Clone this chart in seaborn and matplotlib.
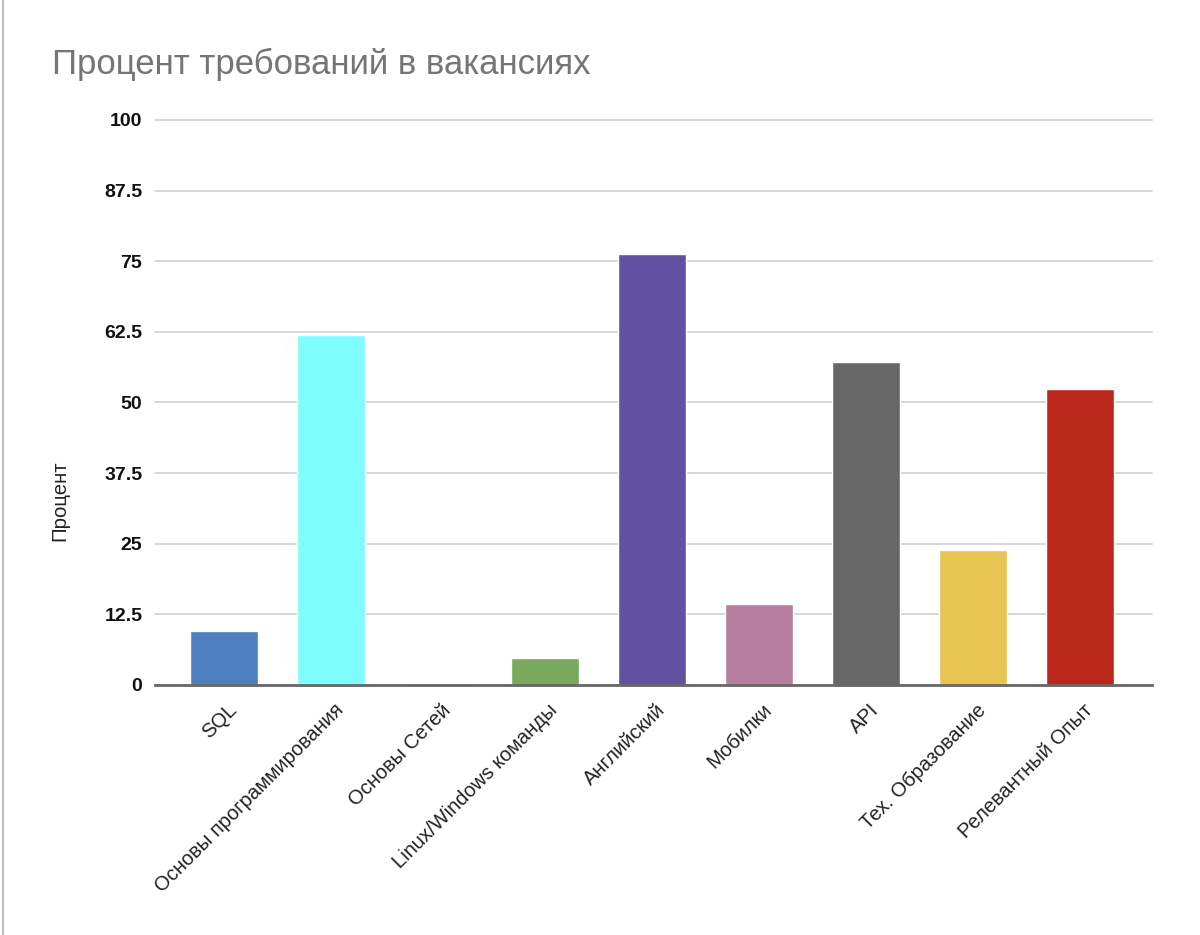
"""Процент требований в вакансиях — bar chart."""

import matplotlib

matplotlib.use("Agg")
import matplotlib.pyplot as plt
import matplotlib.transforms as mtransforms
import pandas as pd
import seaborn as sns
from matplotlib.lines import Line2D

categories = [
    "SQL",
    "Основы программирования",
    "Основы Сетей",
    "Linux/Windows команды",
    "Английский",
    "Мобилки",
    "API",
    "Тех. Образование",
    "Релевантный Опыт",
]
percent = [9.52, 61.90, 0.0, 4.76, 76.19, 14.29, 57.14, 23.81, 52.38]
colors = [
    "#4e7fbf",
    "#7ffcfc",
    "#999999",
    "#78a95c",
    "#6251a0",
    "#b77e9f",
    "#676767",
    "#e8c452",
    "#ba271b",
]
y_ticks = [0, 12.5, 25, 37.5, 50, 62.5, 75, 87.5, 100]
y_tick_labels = ["0", "12.5", "25", "37.5", "50", "62.5", "75", "87.5", "100"]

sns.set_theme(style="white")
plt.rcParams["font.family"] = ["Liberation Sans", "DejaVu Sans"]

df = pd.DataFrame({"category": categories, "percent": percent})

fig = plt.figure(figsize=(12, 9.35), dpi=100)
ax = fig.add_axes([0.129, 0.2674, 0.831, 0.6043])

sns.barplot(
    data=df,
    x="category",
    y="percent",
    hue="category",
    palette=dict(zip(categories, colors)),
    legend=False,
    width=0.636,
    saturation=1,
    ax=ax,
)

ax.set_xlim(-0.645, 8.673)
ax.set_ylim(0, 100)
ax.set_yticks(y_ticks)
ax.set_yticklabels(y_tick_labels, fontsize=14, fontweight="bold", color="#111111")
ax.yaxis.grid(True, color="#d6d6d6", linewidth=1.4, clip_on=False)
ax.set_axisbelow(True)
ax.tick_params(axis="y", length=0, pad=9)
ax.tick_params(axis="x", length=0, pad=8)

for side in ["top", "right", "left"]:
    ax.spines[side].set_visible(False)
ax.spines["bottom"].set_color("#666666")
ax.spines["bottom"].set_linewidth(2)
ax.spines["bottom"].set_zorder(5)

ax.set_xticks(range(len(categories)))
ax.set_xticklabels(
    categories, rotation=45, ha="right", va="center",
    rotation_mode="anchor", fontsize=14.5, color="#222222",
)
shift = mtransforms.ScaledTranslation(0.10, -0.11, fig.dpi_scale_trans)
for label in ax.get_xticklabels():
    label.set_transform(label.get_transform() + shift)
ax.set_xlabel("")
ax.set_ylabel("")

fig.text(0.043, 0.931, "Процент требований в вакансиях",
         fontsize=25, color="#757575", ha="left", va="center")
fig.text(0.05, 0.464, "Процент", rotation=90,
         fontsize=14.7, color="#222222", ha="center", va="center")

# thin frame line on the left edge, as in the screenshot
fig.add_artist(Line2D([0.0025, 0.0025], [0, 1], transform=fig.transFigure,
                      color="#bdbdbd", linewidth=1.5))

fig.savefig("out.png", dpi=100, facecolor="white")
plt.close(fig)
